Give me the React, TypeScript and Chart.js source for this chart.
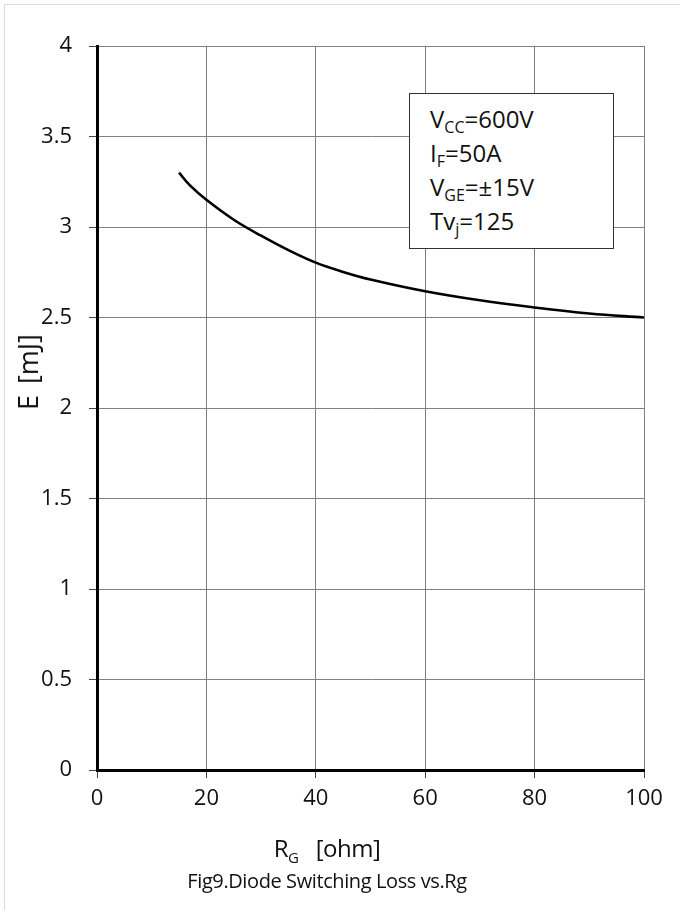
import React, { useEffect, useRef } from "react";
import { Chart, registerables } from "chart.js";

Chart.register(...registerables);

const rgOhm = [15, 17, 20, 25, 30, 35, 40, 45, 50, 60, 70, 80, 90, 100];
const lossMJ = [3.3, 3.23, 3.15, 3.04, 2.952, 2.872, 2.803, 2.752, 2.71, 2.645, 2.595, 2.555, 2.522, 2.5];
const xTicks = [0, 20, 40, 60, 80, 100];
const yTicks = [0, 0.5, 1, 1.5, 2, 2.5, 3, 3.5, 4];

const FONT = "'Open Sans', sans-serif";

export default function App() {
  const canvasRef = useRef<HTMLCanvasElement | null>(null);

  useEffect(() => {
    const canvas = canvasRef.current;
    if (!canvas) return;
    const chart = new Chart(canvas, {
      type: "line",
      data: {
        datasets: [
          {
            data: rgOhm.map((x, i) => ({ x, y: lossMJ[i] })),
            borderColor: "#000",
            borderWidth: 2.6,
            pointRadius: 0,
            tension: 0.4,
            fill: false,
          },
        ],
      },
      options: {
        animation: false,
        responsive: false,
        maintainAspectRatio: false,
        layout: { padding: { top: 46, right: 36, left: 0, bottom: 0 } },
        plugins: { legend: { display: false }, tooltip: { enabled: false }, title: { display: false } },
        scales: {
          x: {
            type: "linear",
            min: xTicks[0],
            max: xTicks[xTicks.length - 1],
            afterBuildTicks: (s: any) => {
              s.ticks = xTicks.map((v) => ({ value: v }));
            },
            afterFit: (s: any) => {
              s.height = 140;
            },
            ticks: {
              color: "#111",
              font: { family: FONT, size: 22 },
              padding: 8,
              maxRotation: 0,
              autoSkip: false,
            },
            grid: { color: "#808080", lineWidth: 1, tickLength: 8, tickColor: "#444" },
            border: { display: true, color: "#000", width: 3 },
          },
          y: {
            type: "linear",
            min: yTicks[0],
            max: yTicks[yTicks.length - 1],
            afterBuildTicks: (s: any) => {
              s.ticks = yTicks.map((v) => ({ value: v }));
            },
            afterFit: (s: any) => {
              s.width = 97;
            },
            ticks: {
              color: "#111",
              font: { family: FONT, size: 22 },
              padding: 17,
              autoSkip: false,
              callback: (v: any) => String(v),
            },
            grid: { color: "#808080", lineWidth: 1, tickLength: 8, tickColor: "#444" },
            border: { display: true, color: "#000", width: 3 },
          },
        },
      },
    } as any);
    return () => chart.destroy();
  }, []);

  const sub: React.CSSProperties = { fontSize: 16, position: "relative", top: 5 };
  const line = (top: number): React.CSSProperties => ({
    position: "absolute",
    left: 20,
    top,
    lineHeight: "34px",
    whiteSpace: "nowrap",
  });

  return (
    <div style={{ position: "fixed", left: 0, top: 0, width: 680, height: 910, background: "#fff", overflow: "hidden", fontFamily: FONT, color: "#111" }}>
      <div style={{ position: "absolute", left: 4, top: 4, width: 800, height: 1000, borderLeft: "1px solid #d9d9d9", borderTop: "1px solid #d9d9d9" }} />
      <canvas ref={canvasRef} width={680} height={910} style={{ position: "absolute", left: 0, top: 0 }} />
      <div
        style={{
          position: "absolute",
          left: 409,
          top: 93,
          width: 205,
          height: 156,
          boxSizing: "border-box",
          border: "1.5px solid #333",
          background: "#fff",
          fontSize: 24,
        }}
      >
        <div style={line(8)}>V<span style={sub}>CC</span>=600V</div>
        <div style={line(42)}>I<span style={sub}>F</span>=50A</div>
        <div style={line(76)}>V<span style={sub}>GE</span>=±15V</div>
        <div style={line(110)}>Tv<span style={sub}>j</span>=125</div>
      </div>
      <div
        style={{
          position: "absolute",
          left: 28,
          top: 372,
          transform: "translate(-50%, -50%) rotate(-90deg)",
          fontSize: 27,
          whiteSpace: "nowrap",
          lineHeight: "32px",
          wordSpacing: 4,
        }}
      >
        E [mJ]
      </div>
      <div
        style={{
          position: "absolute",
          left: 0,
          width: 654,
          textAlign: "center",
          top: 833,
          fontSize: 24,
          lineHeight: "30px",
          whiteSpace: "nowrap",
          letterSpacing: -0.5,
        }}
      >
        R<span style={{ fontSize: 15, position: "relative", top: 6 }}>G</span>&nbsp;&nbsp;&nbsp;[ohm]
      </div>
      <div
        style={{
          position: "absolute",
          left: 0,
          width: 654,
          textAlign: "center",
          top: 868,
          fontSize: 20,
          lineHeight: "26px",
          whiteSpace: "nowrap",
          letterSpacing: -0.4,
        }}
      >
        Fig9.Diode Switching Loss vs.Rg
      </div>
    </div>
  );
}
